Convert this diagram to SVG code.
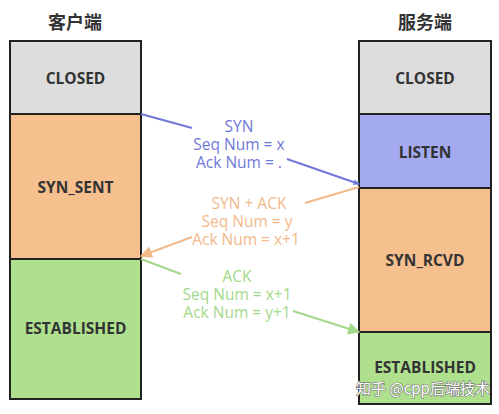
<svg xmlns="http://www.w3.org/2000/svg" width="499" height="414" viewBox="0 0 499 414">
<defs>
<style>
.box{stroke:#222;stroke-width:2}
.lbl{font-family:"Open Sans","Noto Sans",sans-serif;font-weight:bold;font-size:15.5px;fill:#333;text-anchor:middle;dominant-baseline:central}
.ttl{font-family:"Noto Sans CJK SC",sans-serif;font-weight:bold;font-size:18px;fill:#333;text-anchor:middle}
.msg{font-family:"Open Sans","Noto Sans",sans-serif;font-size:15.5px;text-anchor:middle;dominant-baseline:central}
.ln{stroke-width:2;fill:none}
</style>
<marker id="aB" viewBox="0 0 10 10" refX="9" refY="5" markerWidth="7" markerHeight="6" orient="auto" markerUnits="userSpaceOnUse"><path d="M0,0L10,5L0,10z" fill="#6f79d9"/></marker>
<marker id="aO" viewBox="0 0 10 10" refX="9" refY="5" markerWidth="7" markerHeight="6" orient="auto"><path d="M0,0L10,5L0,10z" fill="#f2b98a"/></marker>
<marker id="aG" viewBox="0 0 10 10" refX="9" refY="5" markerWidth="7" markerHeight="6" orient="auto"><path d="M0,0L10,5L0,10z" fill="#a3d98a"/></marker>
</defs>
<rect width="499" height="414" fill="#fff"/>
<text class="ttl" x="75" y="29">客户端</text>
<text class="ttl" x="425" y="29">服务端</text>
<g id="c-closed"><rect class="box" x="10" y="41" width="131" height="73" fill="#dddddd"/><text class="lbl" x="75.5" y="78">CLOSED</text></g>
<g id="c-synsent"><rect class="box" x="10" y="114" width="131" height="145" fill="#f5c08e"/><text class="lbl" x="75.5" y="187">SYN_SENT</text></g>
<g id="c-est"><rect class="box" x="10" y="259" width="131" height="140" fill="#aee08e"/><text class="lbl" x="75.5" y="328">ESTABLISHED</text></g>
<g id="s-closed"><rect class="box" x="359" y="41" width="132" height="73" fill="#dddddd"/><text class="lbl" x="425" y="78">CLOSED</text></g>
<g id="s-listen"><rect class="box" x="359" y="114" width="132" height="74" fill="#a4aaf0"/><text class="lbl" x="425" y="152">LISTEN</text></g>
<g id="s-synrcvd"><rect class="box" x="359" y="188" width="132" height="144" fill="#f5c08e"/><text class="lbl" x="425" y="260">SYN_RCVD</text></g>
<g id="s-est"><rect class="box" x="359" y="332" width="132" height="72" fill="#aee08e"/><text class="lbl" x="425" y="367">ESTABLISHED</text></g>
<g id="connectors">
<path class="ln" stroke="#6f79d9" d="M141,114L192,128"/>
<path class="ln" stroke="#6f79d9" d="M287,159L359,184" marker-end="url(#aB)"/>
<text class="msg" fill="#6f79d9" x="239" y="126">SYN</text>
<text class="msg" fill="#6f79d9" x="239" y="144">Seq Num = x</text>
<text class="msg" fill="#6f79d9" x="239" y="162">Ack Num = .</text>
<path class="ln" stroke="#f2b98a" d="M359,187L305,203"/>
<path class="ln" stroke="#f2b98a" d="M192,237L141,256" marker-end="url(#aO)"/>
<text class="msg" fill="#f2b98a" x="249" y="203">SYN + ACK</text>
<text class="msg" fill="#f2b98a" x="247" y="221">Seq Num = y</text>
<text class="msg" fill="#f2b98a" x="246" y="239">Ack Num = x+1</text>
<path class="ln" stroke="#a3d98a" d="M141,259L181,274"/>
<path class="ln" stroke="#a3d98a" d="M293,311L359,332" marker-end="url(#aG)"/>
<text class="msg" fill="#a3d98a" x="237" y="276">ACK</text>
<text class="msg" fill="#a3d98a" x="237" y="294">Seq Num = x+1</text>
<text class="msg" fill="#a3d98a" x="237" y="312">Ack Num = y+1</text>
</g>
<text x="423" y="394" font-family="Noto Sans CJK SC,sans-serif" font-size="15" fill="#fff" stroke="#777" stroke-width="1.2" paint-order="stroke" text-anchor="middle">知乎 @cpp后端技术</text>
</svg>
